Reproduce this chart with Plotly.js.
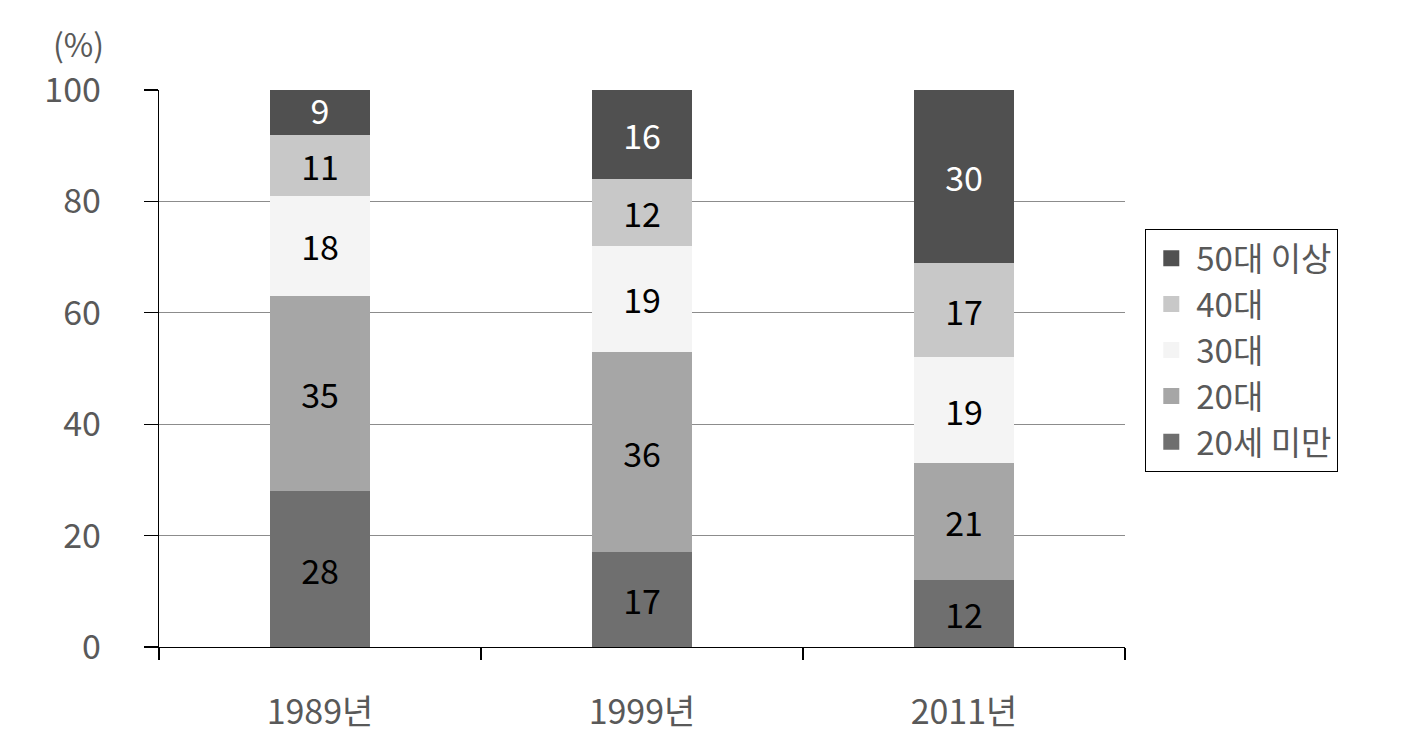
<!DOCTYPE html>
<html><head><meta charset="utf-8">
<script src="https://cdn.plot.ly/plotly-3.0.1.min.js"></script>
<style>html,body{margin:0;padding:0;background:#fff}#c{width:1402px;height:739px}</style>
</head><body><div id="c"></div>
<script>
const years = ['1989년', '1999년', '2011년'];
// segment heights as drawn
const under20 = [28, 17, 12];
const age20s = [35, 36, 21];
const age30s = [18, 19, 19];
const age40s = [11, 12, 17];
const age50plus = [9, 16, 31];
// printed labels
const under20Labels = [28, 17, 12];
const age20sLabels = [35, 36, 21];
const age30sLabels = [18, 19, 19];
const age40sLabels = [11, 12, 17];
const age50plusLabels = [9, 16, 30];
const seriesNames = ['20세 미만', '20대', '30대', '40대', '50대 이상'];
const seriesColors = ['#6f6f6f', '#a6a6a6', '#f4f4f4', '#c8c8c8', '#505050'];
const textColors = ['#000', '#000', '#000', '#000', '#fff'];
const seriesVals = [under20, age20s, age30s, age40s, age50plus];
const seriesLabels = [under20Labels, age20sLabels, age30sLabels, age40sLabels, age50plusLabels];

const FONT = '"Noto Sans CJK KR", "Noto Sans", sans-serif';
const traces = seriesVals.map((v, i) => ({
  type: 'bar', x: years, y: v, name: seriesNames[i], showlegend: false,
  marker: {color: seriesColors[i], line: {width: 0}},
  text: seriesLabels[i].map(String), textposition: 'inside', insidetextanchor: 'middle', textangle: 0,
  textfont: {family: FONT, size: 34, color: textColors[i]},
  constraintext: 'none', hoverinfo: 'skip', cliponaxis: true
}));
const legendTraces = seriesNames.map((n, i) => ({
  type: 'scatter', mode: 'markers', x: [null], y: [null], name: n, showlegend: true,
  marker: {symbol: 'square', size: 19, color: seriesColors[i]}, hoverinfo: 'skip'
}));

const layout = {
  width: 1402, height: 739,
  margin: {l: 159, r: 277, t: 90, b: 92},
  barmode: 'stack', bargap: 0.69,
  paper_bgcolor: '#fff', plot_bgcolor: '#fff',
  font: {family: FONT, color: '#595959'},
  showlegend: true,
  legend: {x: 1.0207, y: 0.7505, xanchor: 'left', yanchor: 'top', traceorder: 'reversed',
    bordercolor: '#000', borderwidth: 1.3, bgcolor: '#fff', itemsizing: 'trace',
    font: {family: FONT, size: 33, color: '#595959'}, tracegroupgap: 0, itemwidth: 40},
  xaxis: {type: 'category', tickson: 'boundaries', ticks: 'outside', ticklen: 12, tickcolor: '#000', tickwidth: 1.3,
    showline: true, linecolor: '#000', linewidth: 1.3, showgrid: false, zeroline: false,
    tickfont: {family: FONT, size: 34, color: '#595959'}, ticklabelstandoff: 35},
  yaxis: {range: [0, 100], dtick: 20, ticks: 'outside', ticklen: 14, tickcolor: '#000', tickwidth: 1.3,
    showline: true, linecolor: '#000', linewidth: 1.3, showgrid: true, gridcolor: '#8c8c8c', gridwidth: 1,
    zeroline: false, tickfont: {family: FONT, size: 34, color: '#595959'}, ticklabelstandoff: 36},
  annotations: [{text: '(%)', xref: 'paper', yref: 'paper', x: -0.083, y: 1.085, xanchor: 'center', yanchor: 'middle',
    showarrow: false, font: {family: FONT, size: 32, color: '#595959'}}]
};
Plotly.newPlot('c', traces.concat(legendTraces), layout, {displayModeBar: false, staticPlot: true});
</script></body></html>
